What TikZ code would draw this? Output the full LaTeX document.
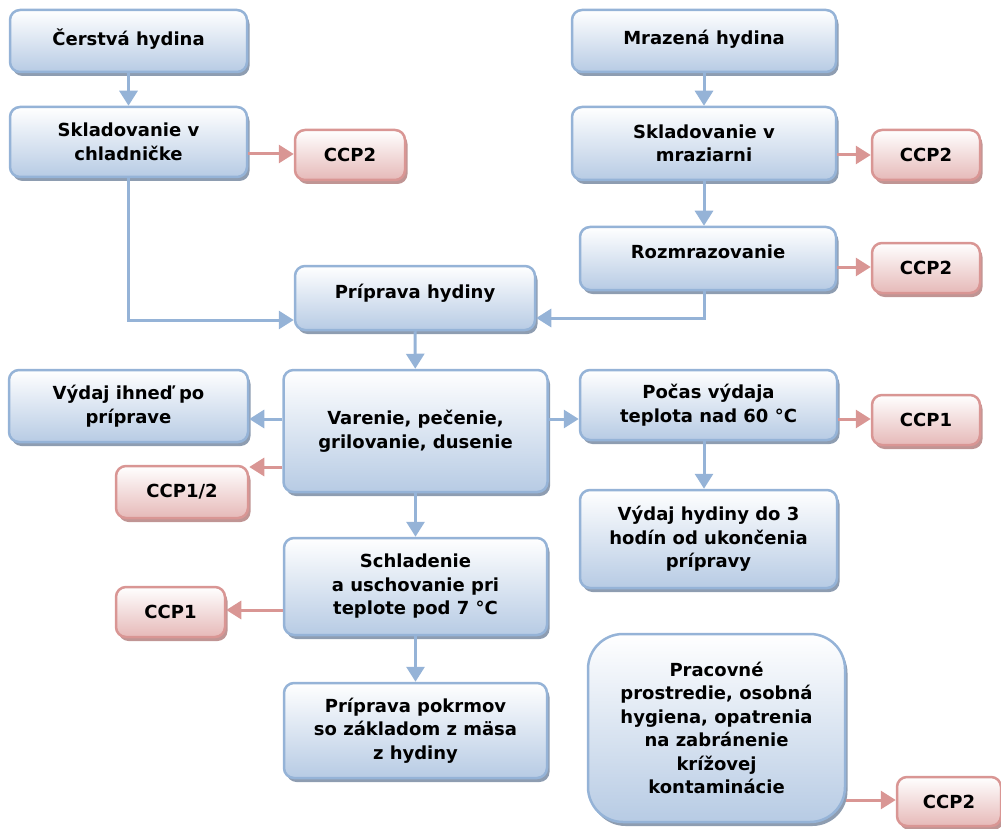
\documentclass[tikz,border=0pt]{standalone}
\usepackage{fontspec}
\setmainfont{DejaVu Sans}
\usetikzlibrary{arrows.meta,shadows}
\definecolor{bborder}{HTML}{95B3D7}
\definecolor{bfill}{HTML}{B7CBE4}
\definecolor{rborder}{HTML}{D99694}
\definecolor{rfill}{HTML}{E6B9B8}
\definecolor{bshadow}{HTML}{8E9DB1}
\definecolor{rshadow}{HTML}{C09594}
\tikzset{
  basebox/.style={line width=2.5pt, rounded corners=10pt, top color=white, align=center,
    font=\bfseries\fontsize{18}{23.5}\selectfont, inner sep=3pt},
  bbox/.style={basebox, draw=bborder, bottom color=bfill,
    drop shadow={shadow xshift=2.5pt, shadow yshift=-4pt, fill=bshadow, opacity=1}},
  rbox/.style={basebox, draw=rborder, bottom color=rfill,
    drop shadow={shadow xshift=2.5pt, shadow yshift=-4pt, fill=rshadow, opacity=1}},
  barrow/.style={draw=bborder, line width=3pt, -{Triangle[length=15pt,width=18pt]}},
  rarrow/.style={draw=rborder, line width=3pt, -{Triangle[length=15pt,width=18pt]}},
}
\begin{document}
\begin{tikzpicture}[x=1pt,y=-1pt]
\useasboundingbox (0,0) rectangle (1001,829);
% left column top
\node[bbox, minimum width=237pt, minimum height=62pt, text depth=8pt] (cer) at (128.5,41) {Čerstvá hydina};
\node[bbox, minimum width=237pt, minimum height=70pt] (skl) at (128.5,142) {Skladovanie v\\chladničke};
\node[rbox, minimum width=110pt, minimum height=50pt] (c1) at (350,155) {CCP2};
% right column top
\node[bbox, minimum width=264pt, minimum height=62pt, text depth=8pt] (mra) at (704,41) {Mrazená hydina};
\node[bbox, minimum width=264pt, minimum height=73pt] (msk) at (704,143.5) {Skladovanie v\\mraziarni};
\node[rbox, minimum width=108pt, minimum height=50pt] (c2) at (926,155) {CCP2};
\node[bbox, minimum width=256pt, minimum height=63pt, text depth=14pt] (roz) at (708,258.5) {Rozmrazovanie};
\node[rbox, minimum width=108pt, minimum height=50pt] (c3) at (926,268) {CCP2};
% middle
\node[bbox, minimum width=240pt, minimum height=64pt, text depth=14pt] (pri) at (415,298) {Príprava hydiny};
\node[bbox, minimum width=239pt, minimum height=72pt] (vyd) at (128.5,406) {Výdaj ihneď po\\príprave};
\node[bbox, minimum width=264pt, minimum height=122pt] (var) at (415.5,431) {Varenie, pečenie,\\grilovanie, dusenie};
\node[rbox, minimum width=132pt, minimum height=52pt] (c4) at (182,492) {CCP1/2};
\node[bbox, minimum width=257pt, minimum height=70pt] (poc) at (708.5,405) {Počas výdaja\\teplota nad 60 °C};
\node[rbox, minimum width=108pt, minimum height=50pt] (c5) at (926,420) {CCP1};
\node[bbox, minimum width=257pt, minimum height=98pt] (vhy) at (708.5,539) {Výdaj hydiny do 3\\hodín od ukončenia\\prípravy};
\node[bbox, minimum width=263pt, minimum height=97pt] (sch) at (415.5,586.5) {Schladenie\\a uschovanie pri\\teplote pod 7 °C};
\node[rbox, minimum width=109pt, minimum height=50pt] (c6) at (170.5,612) {CCP1};
\node[bbox, minimum width=263pt, minimum height=95pt] (pok) at (415.5,730.5) {Príprava pokrmov\\so základom z mäsa\\z hydiny};
\node[bbox, rounded corners=35pt, minimum width=257pt, minimum height=188pt] (pra) at (716.5,728) {Pracovné\\prostredie, osobná\\hygiena, opatrenia\\na zabránenie\\krížovej\\kontaminácie};
\node[rbox, minimum width=104pt, minimum height=49pt] (c7) at (949,801.5) {CCP2};
% connectors
\draw[barrow] (cer) -- (skl);
\draw[rarrow] (skl.east |- 0,154) -- (c1.west |- 0,154);
\draw[barrow] (skl.south) |- (pri.west |- 0,320);
\draw[barrow] (mra) -- (msk);
\draw[rarrow] (msk.east |- 0,155) -- (c2.west |- 0,155);
\draw[barrow] (msk.south) -- (msk.south |- roz.north);
\draw[rarrow] (roz.east |- 0,267) -- (c3.west |- 0,267);
\draw[barrow] (msk.south |- roz.south) |- (pri.east |- 0,318);
\draw[barrow] (pri) -- (var);
\draw[barrow] (var.west |- 0,419) -- (vyd.east |- 0,419);
\draw[rarrow] (var.west |- 0,467) -- (c4.east |- 0,467);
\draw[barrow] (var.east |- 0,419) -- (poc.west |- 0,419);
\draw[rarrow] (poc.east |- 0,419) -- (c5.west |- 0,419);
\draw[barrow] (msk.south |- poc.south) -- (msk.south |- vhy.north);
\draw[barrow] (var) -- (sch);
\draw[rarrow] (sch.west |- 0,610) -- (c6.east |- 0,610);
\draw[barrow] (sch) -- (pok);
\draw[rarrow] (pra.east |- 0,800) -- (c7.west |- 0,800);
\end{tikzpicture}
\end{document}
